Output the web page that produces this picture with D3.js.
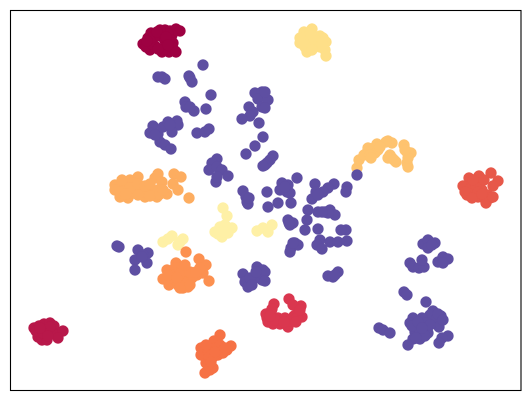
<!DOCTYPE html>
<html><head><meta charset="utf-8">
<script src="https://cdn.jsdelivr.net/npm/d3@7"></script>
<style>html,body{margin:0;padding:0;background:#fff}svg{display:block}</style>
</head><body><div id="chart"></div>
<script>
const maroon=[[133,346],[138,352],[141,357],[142,350],[145,344],[140,340],[136,343],[142,346],[143,353],[153,358],[155,360],[160,359],[166,361],[170,359],[162,355],[158,356],[150,354],[155,349],[161,350],[163,347],[155,343],[159,338],[152,338],[165,339],[148,341],[162,343],[166,338],[150,360],[137,349],[147,358],[156,353],[158,345]];
const crimson=[[24,62],[29,64],[34,66],[40,67],[44,64],[30,58],[36,60],[42,59],[28,53],[32,50],[37,50],[44,56],[47,55],[53,59],[48,52],[35,55],[40,63],[26,59],[33,57],[38,54],[30,62]];
const red=[[257,72],[256,76],[261,78],[264,86],[262,81],[258,68],[263,66],[268,72],[270,66],[275,72],[278,63],[280,69],[284,74],[288,78],[291,84],[292,73],[287,72],[279,91],[283,85],[265,70],[274,68],[286,68],[290,80],[260,74]];
const vermilion=[[459,212],[469,214],[481,217],[488,209],[483,204],[453,204],[462,206],[470,207],[457,195],[463,199],[472,200],[478,195],[468,193],[475,191],[480,192],[476,187],[460,201],[466,204],[455,198],[483,193],[463,210],[474,210],[468,198],[462,192],[472,196]];
const tangerine=[[210,55],[204,49],[221,44],[217,40],[191,42],[191,35],[198,40],[205,42],[208,35],[213,37],[196,27],[203,22],[200,20],[195,17],[198,25],[203,33],[199,33],[210,45],[196,45],[205,38],[201,28],[215,42]];
const orange=[[176,138],[189,131],[196,125],[193,117],[199,109],[187,115],[190,122],[166,127],[157,120],[153,111],[159,105],[165,122],[172,120],[163,112],[170,110],[177,115],[173,102],[178,103],[168,105],[182,112],[175,107],[162,115],[165,115],[170,116],[180,118],[175,125],[158,115],[167,112],[186,118],[180,105],[170,102]];
const apricot=[[105,205],[110,202],[110,193],[118,192],[120,210],[128,213],[123,207],[115,200],[123,197],[130,202],[135,193],[137,198],[142,200],[147,193],[157,196],[148,200],[145,212],[148,216],[152,208],[164,216],[171,213],[163,206],[168,200],[179,192],[125,202],[105,200],[117,205],[110,198],[115,194],[128,195],[120,202],[140,194],[112,210],[116,196],[128,206],[135,204],[140,206],[150,196],[153,200]];
const peach=[[347,222],[349,230],[357,237],[358,242],[367,246],[365,237],[378,249],[382,247],[380,235],[382,232],[386,228],[394,245],[397,238],[401,237],[397,227],[398,223],[362,240],[354,235],[364,242],[368,240],[376,248],[378,232],[384,230],[398,232],[395,240],[360,235],[370,243],[361,232]];
const yellow=[[302,361],[294,358],[290,347],[293,353],[298,353],[297,338],[302,345],[310,354],[313,352],[316,348],[308,348],[315,340],[316,334],[295,343],[305,350],[310,343],[300,356],[293,348],[302,340],[290,352],[312,346]];
const pale=[[213,182],[217,174],[210,163],[205,158],[212,153],[222,162],[215,160],[218,157],[153,148],[162,154],[158,151],[173,151],[170,148],[168,145],[247,159],[253,162],[258,158],[262,165],[215,165],[208,156],[214,158]];
const purple=[[193,325],[152,313],[155,311],[148,313],[179,314],[180,312],[182,308],[201,295],[175,288],[176,283],[184,279],[196,281],[180,283],
[143,264],[140,257],[148,256],[153,263],[158,268],[167,269],[168,265],[162,258],[160,265],[150,248],[155,245],[161,241],[145,255],
[187,257],[195,258],[199,261],
[207,231],[202,227],[199,220],[207,223],[212,220],[218,214],[206,208],[207,213],
[233,199],[236,193],[238,186],[237,188],[239,192],
[236,236],[245,244],
[245,297],[252,298],[248,291],[252,283],[239,283],[243,278],[240,274],[232,271],[249,267],[258,290],[255,298],[255,282],[253,253],
[263,234],[260,230],[257,227],[255,225],[253,224],
[257,198],[268,187],[281,187],[258,183],
[287,212],[278,205],[272,207],[270,200],[277,198],[280,197],[275,203],
[305,206],[324,206],[318,202],[313,198],[306,198],[302,191],[308,195],
[337,203],[336,198],[347,215],
[298,180],[308,178],[315,178],[320,180],[325,175],[318,177],[312,178],
[297,170],[295,160],[278,170],[280,165],[283,167],[279,167],
[308,161],[336,160],[331,160],
[310,150],[307,145],[312,141],[320,148],[328,148],[337,149],[285,147],[281,142],[288,145],[280,138],[283,147],
[233,116],[247,123],[253,120],[238,108],[235,108],[238,103],[245,112],[240,112],[252,110],[255,118],[255,109],[246,118],[242,105],
[107,144],[109,143],[128,140],[138,137],[133,135],[137,127],[125,130],[125,120],[132,133],
[318,114],[323,113],[328,118],[325,115],
[413,146],[418,150],[425,147],[418,142],[422,145],
[400,127],[403,123],[409,122],[414,123],[412,130],
[428,128],[433,133],[438,131],[433,127],
[394,98],[397,95],[416,88],[423,79],[431,74],[420,75],[427,72],[429,63],[438,54],[432,52],[429,47],[428,76],[433,70],
[403,72],[412,72],[400,67],[408,65],[417,67],[405,58],[412,57],[418,57],[410,51],[403,51],[398,45],[415,67],[406,66],[410,60],[402,64],[415,54],[408,68],[420,65],[406,52],[412,62],
[369,62],[373,60],[380,57]];
const groups=[[apricot,"#fdad60"],[peach,"#fec36f"],[yellow,"#fedf88"],[pale,"#fef0a6"],[orange,"#fc9050"],[tangerine,"#f67245"],[vermilion,"#e75849"],[red,"#da374f"],[crimson,"#b8184a"],[maroon,"#9e0142"],[purple,"#5e4fa2"]];
const W=531,H=401,L=10.5,T=10.5,R=521,B=390.5;
const x=d3.scaleLinear().domain([0,511]).range([L-0.5,R]);
const y=d3.scaleLinear().domain([0,380]).range([B-0.5,T-0.5]);
const svg=d3.select("#chart").append("svg").attr("width",W).attr("height",H);
svg.append("g").selectAll("g").data(groups).join("g").attr("fill",d=>d[1])
 .selectAll("circle").data(d=>d[0]).join("circle")
 .attr("cx",d=>x(d[0])).attr("cy",d=>y(d[1])).attr("r",5.7);
svg.append("rect").attr("x",L).attr("y",T).attr("width",R-L).attr("height",B-T).attr("fill","none").attr("stroke","#000").attr("stroke-width",1.1);
</script></body></html>
